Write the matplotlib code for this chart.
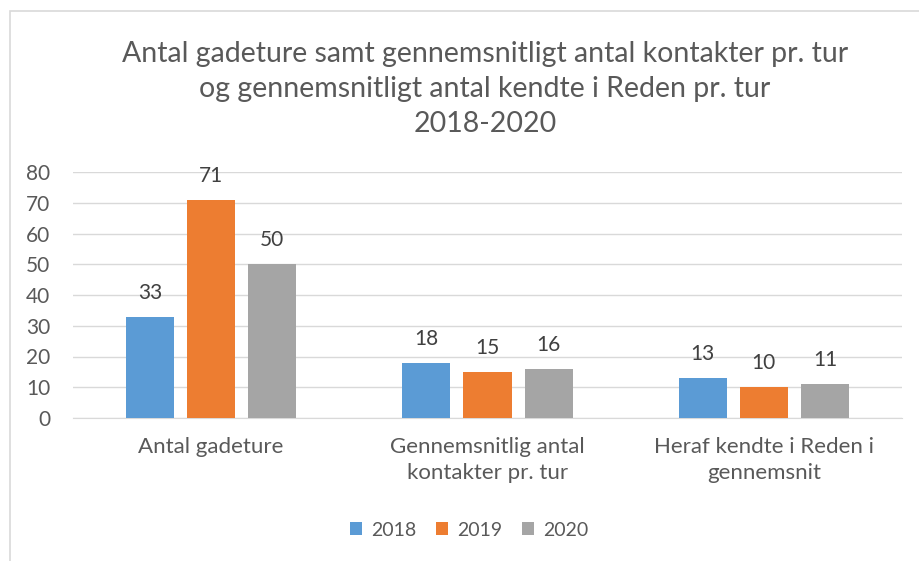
import matplotlib
matplotlib.use("Agg")
import matplotlib.pyplot as plt
from matplotlib.patches import Rectangle
import numpy as np

categories = ["Antal gadeture", "Gennemsnitlig antal\nkontakter pr. tur", "Heraf kendte i Reden i\ngennemsnit"]
years = ["2018", "2019", "2020"]
values_2018 = [33, 18, 13]
values_2019 = [71, 15, 10]
values_2020 = [50, 16, 11]
colors = ["#5B9BD5", "#ED7D31", "#A5A5A5"]
title = ("Antal gadeture samt gennemsnitligt antal kontakter pr. tur\n"
         "og gennemsnitligt antal kendte i Reden pr. tur\n2018-2020")

plt.rcParams["font.family"] = ["Lato", "DejaVu Sans"]
text_color = "#595959"

fig = plt.figure(figsize=(9.19, 5.61), dpi=100)
fig.patches.append(Rectangle((10 / 919, -0.1), 1.2, (561 - 11) / 561 + 0.1,
                             transform=fig.transFigure, fill=False,
                             edgecolor="#D9D9D9", linewidth=1.2))
ax = fig.add_axes([73 / 919, 143 / 561, 829 / 919, 246 / 561])

x = np.arange(len(categories))
width = 0.174
offset = 0.221
for i, (vals, year) in enumerate(zip([values_2018, values_2019, values_2020], years)):
    bars = ax.bar(x + (i - 1) * offset, vals, width, color=colors[i], label=year, zorder=3)
    ax.bar_label(bars, padding=10, fontsize=15, color="#404040")

ax.set_xlim(-0.5, 2.5)
ax.set_ylim(0, 80)
ax.set_yticks(range(0, 81, 10))
ax.yaxis.grid(True, color="#D9D9D9", linewidth=1, zorder=0)
ax.set_axisbelow(True)
for s in ["top", "right", "left"]:
    ax.spines[s].set_visible(False)
ax.spines["bottom"].set_color("#D9D9D9")
ax.tick_params(axis="both", length=0, labelcolor=text_color)
ax.tick_params(axis="y", pad=16.5, labelsize=15)
ax.tick_params(axis="x", pad=14, labelsize=16)
ax.set_xticks(x)
ax.set_xticklabels(categories, linespacing=1.35)

fig.text(485 / 919, 1 - 89 / 561, title, ha="center", va="center",
         fontsize=20.5, color=text_color, linespacing=1.42)

ax.legend(loc="center", bbox_to_anchor=(469 / 919, 1 - 530 / 561),
          bbox_transform=fig.transFigure, ncol=3, frameon=False,
          fontsize=14, labelcolor=text_color, handlelength=0.65,
          handleheight=0.65, handletextpad=0.45, columnspacing=1.0)

fig.savefig("out.png", dpi=100)
